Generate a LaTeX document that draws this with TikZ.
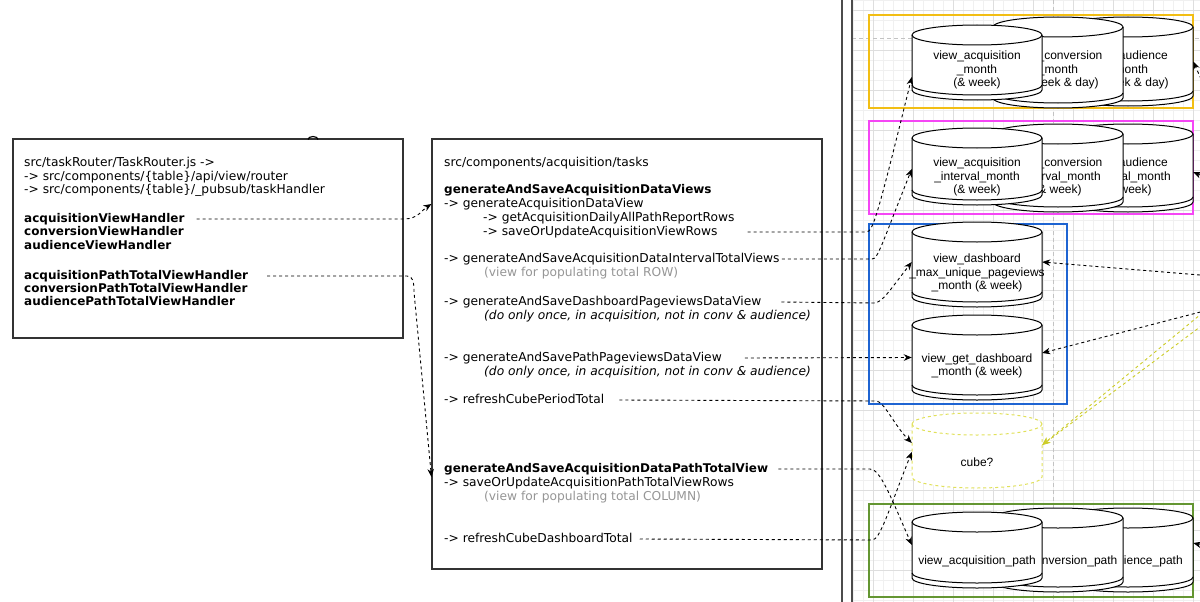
\documentclass[tikz,border=0pt]{standalone}
\usepackage{fontspec}
\usetikzlibrary{arrows.meta,calc}

\newfontfamily\dvsans{DejaVu Sans}
\newfontfamily\arsans{Liberation Sans}
\newcommand{\codefont}{\dvsans\fontsize{12.25}{14}\selectfont}
\newcommand{\boldfont}{\dvsans\bfseries\fontsize{12}{14}\selectfont}
\newcommand{\cylfont}{\arsans\fontsize{12}{13.7}\selectfont}

\definecolor{grpyellow}{RGB}{242,190,20}
\definecolor{grpmagenta}{RGB}{245,70,245}
\definecolor{grpblue}{RGB}{30,100,210}
\definecolor{grpgreen}{RGB}{100,150,50}
\definecolor{cubeyellow}{RGB}{225,225,90}
\definecolor{linkyellow}{RGB}{205,205,40}
\definecolor{notegray}{RGB}{150,150,150}
\definecolor{gridminor}{RGB}{240,240,240}
\definecolor{gridmajor}{RGB}{222,222,222}
\definecolor{pagebreak}{RGB}{195,195,195}

% datastore: name, centre x, top, bottom, label y, label
\newcommand{\dstore}[6]{%
  \pgfmathsetmacro{\cyL}{#2-65}%
  \pgfmathsetmacro{\cyR}{#2+65}%
  \pgfmathsetmacro{\cyT}{#3+10}%
  \pgfmathsetmacro{\cyB}{#4-10}%
  \pgfmathsetmacro{\cyG}{#4-15}%
  \pgfmathsetmacro{\cyM}{(#3+#4)/2}%
  \pgfmathsetmacro{\cyH}{#4-#3}%
  \filldraw[cyl] (\cyL,\cyT) arc[start angle=180,end angle=360,x radius=65,y radius=10]
    -- (\cyR,\cyB) arc[start angle=0,end angle=180,x radius=65,y radius=10] -- cycle;
  \draw[cyl] (\cyL,\cyT) arc[start angle=180,end angle=0,x radius=65,y radius=10];
  \draw[cyl] (\cyL,\cyG) arc[start angle=180,end angle=0,x radius=65,y radius=10];
  \node[cylbox, minimum height=\cyH pt] (#1) at (#2,\cyM) {};
  \node[cyltxt] at (#2,#5) {#6};
}

\begin{document}
\begin{tikzpicture}[x=1pt,y=-1pt,
    panel/.style={draw=black!80, line width=1.1pt, minimum width=390pt},
    group/.style={draw, line width=2pt, minimum width=324pt, minimum height=93pt},
    code/.style={anchor=west, text height=9pt, text depth=3pt, font=\codefont},
    codeb/.style={code, font=\boldfont},
    note/.style={code, text=notegray},
    hint/.style={code, font=\codefont\itshape},
    cyl/.style={draw=black, fill=white, line width=1pt},
    cylbox/.style={minimum width=130pt},
    cyltxt/.style={align=center, font=\cylfont},
    link/.style={draw=black, line width=0.9pt, dash pattern=on 3pt off 3pt,
      -{Stealth[length=8pt,width=6.5pt,inset=2.5pt]}},
    ylink/.style={link, draw=linkyellow, -{Stealth[length=8pt,width=6.5pt,inset=2.5pt,fill=linkyellow]}}]
  \tikzstyle{every node}+=[inner sep=0pt]
  \useasboundingbox (0,0) rectangle (1200,602);
  \clip (0,0) rectangle (1200,602);
  \fill[white] (0,0) rectangle (1200,602);

  % canvas grid
  \foreach \gx in {853,863,...,1193} \draw[gridminor, line width=0.6pt] (\gx,0) -- (\gx,602);
  \foreach \gy in {0,10,...,600} \draw[gridminor, line width=0.6pt] (852,\gy) -- (1200,\gy);
  \foreach \gx in {873,913,...,1193} \draw[gridmajor, line width=0.7pt] (\gx,0) -- (\gx,602);
  \foreach \gy in {10,50,...,570} \draw[gridmajor, line width=0.7pt] (852,\gy) -- (1200,\gy);
  \draw[pagebreak, line width=1pt, dash pattern=on 4pt off 3pt] (1053,0) -- (1053,602);
  \draw[pagebreak, line width=1pt, dash pattern=on 4pt off 3pt] (852,39) -- (1200,39);
  \draw[black!70, line width=1.4pt] (842,0) -- (842,602);
  \draw[black!70, line width=1.4pt] (852,0) -- (852,602);

  % router box
  \draw (208,238.5) node[panel, minimum height=199pt] (router) {};
  \draw[line width=1.2pt] (308,139.5) arc[start angle=180,end angle=360,x radius=5,y radius=3];
  \draw (24,163) node[code] (rtFile) {src/taskRouter/TaskRouter.js ->};
  \draw (24,177) node[code] (rtRouter) {-> src/components/\{table\}/api/view/router};
  \draw (24,190) node[code] (rtHandler) {-> src/components/\{table\}/\_pubsub/taskHandler};
  \draw (24,219) node[codeb] (hView) {acquisitionViewHandler};
  \draw (24,232) node[codeb] (hConvView) {conversionViewHandler};
  \draw (24,246) node[codeb] (hAudView) {audienceViewHandler};
  \draw (24,276) node[codeb] (hPath) {acquisitionPathTotalViewHandler};
  \draw (24,289) node[codeb] (hConvPath) {conversionPathTotalViewHandler};
  \draw (24,302) node[codeb] (hAudPath) {audiencePathTotalViewHandler};

  % tasks box
  \draw (627,354) node[panel, minimum height=430pt] (tasks) {};
  \draw (444,163) node[code] (tkDir) {src/components/acquisition/tasks};
  \draw (444,190) node[codeb] (gViews) {generateAndSaveAcquisitionDataViews};
  \draw (444,204) node[code] (gView) {-> generateAcquisitionDataView};
  \draw (483,218) node[code] (gRows) {-> getAcquisitionDailyAllPathReportRows};
  \draw (483,232) node[code] (sView) {-> saveOrUpdateAcquisitionViewRows};
  \draw (444,259) node[code] (gInt) {-> generateAndSaveAcquisitionDataIntervalTotalViews};
  \draw (484,273) node[note] (nRow) {(view for populating total ROW)};
  \draw (444,302) node[code] (gDash) {-> generateAndSaveDashboardPageviewsDataView};
  \draw (484,316) node[hint] (nOnceA) {(do only once, in acquisition, not in conv \& audience)};
  \draw (444,358) node[code] (gPathPv) {-> generateAndSavePathPageviewsDataView};
  \draw (484,372) node[hint] (nOnceB) {(do only once, in acquisition, not in conv \& audience)};
  \draw (444,400) node[code] (rPeriod) {-> refreshCubePeriodTotal};
  \draw (444,469) node[codeb] (gPathTot) {generateAndSaveAcquisitionDataPathTotalView};
  \draw (444,483) node[code] (sPath) {-> saveOrUpdateAcquisitionPathTotalViewRows};
  \draw (484,497) node[note] (nCol) {(view for populating total COLUMN)};
  \draw (444,539) node[code] (rDash) {-> refreshCubeDashboardTotal};

  % view groups
  \draw (1031,61.5) node[group, draw=grpyellow] (grpMonth) {};
  \draw (1031,167.5) node[group, draw=grpmagenta] (grpInterval) {};
  \draw (968,314) node[group, draw=grpblue, minimum width=198pt, minimum height=180pt] (grpDash) {};
  \draw (1031,550.5) node[group, draw=grpgreen] (grpPath) {};

  \dstore{mAud}{1128}{17}{106}{70}{view\_audience\\\_month\\(\& week \& day)}
  \dstore{mConv}{1058}{17}{108}{70}{view\_conversion\\\_month\\(\& week \& day)}
  \dstore{mAcq}{977}{25}{100}{70}{view\_acquisition\\\_month\\(\& week)}
  \dstore{iAud}{1128}{124}{212}{177}{view\_audience\\\_interval\_month\\(\& week)}
  \dstore{iConv}{1058}{124}{212}{177}{view\_conversion\\\_interval\_month\\(\& week)}
  \dstore{iAcq}{977}{128}{205}{177}{view\_acquisition\\\_interval\_month\\(\& week)}
  \dstore{dMax}{977}{222}{307}{273}{view\_dashboard\\\_max\_unique\_pageviews\\\_month (\& week)}
  \dstore{dGet}{977}{315}{400}{366}{view\_get\_dashboard\\\_month (\& week)}
  \dstore{pAud}{1128}{508}{592}{561}{view\_audience\_path}
  \dstore{pConv}{1058}{508}{592}{561}{view\_conversion\_path}
  \dstore{pAcq}{977}{512}{588}{561}{view\_acquisition\_path}

  % cube
  \filldraw[draw=cubeyellow, fill=white, line width=1pt, dash pattern=on 3pt off 3pt]
    (912,424) arc[start angle=180,end angle=360,x radius=65,y radius=11]
    -- (1042,477) arc[start angle=0,end angle=180,x radius=65,y radius=11] -- cycle;
  \draw[cubeyellow, line width=1pt, dash pattern=on 3pt off 3pt]
    (912,424) arc[start angle=180,end angle=0,x radius=65,y radius=11];
  \draw (977,450.5) node[cylbox, minimum height=75pt] (cube) {};
  \draw (977,462) node[cyltxt] (cubeTxt) {cube?};

  % off-canvas ends
  \coordinate (extA) at (1212,276);
  \coordinate (extB) at (1212,309);
  \coordinate (extC) at (1212,305);
  \coordinate (extD) at (1212,318);
  \coordinate (extE) at (1206,90);
  \coordinate (extF) at (1212,180);
  \coordinate (extG) at (1214,548);

  % links
  \draw[link] ([xshift=12pt]hView.east) -- (404,219) .. controls (418,219) and (422,210) .. (gView.west -| tasks.west);
  \draw[link] ([xshift=19pt]hPath.east) -- (407,276) .. controls (413,276) and (414,282) .. (414,292)
    -- ($(gPathTot.west -| tasks.west)+(0,8)$);
  \draw[link] ([xshift=30pt]sView.east) -- (866,232) .. controls (873,232) and (877,218) .. ([yshift=-14.5pt]mAcq.west);
  \draw[link] ([xshift=2pt]gInt.east) -- (872,259) .. controls (878,259) and (881,246) .. ([yshift=-2.5pt]iAcq.west);
  \draw[link] ([xshift=20pt]gDash.east) -- (874,303) .. controls (882,303) and (890,290) .. ([yshift=2.5pt]dMax.west);
  \draw[link] ([xshift=23pt]gPathPv.east) -- (dGet.west);
  \draw[link] ([xshift=15pt]rPeriod.east) -- (876,401) .. controls (884,401) and (894,425) .. ([yshift=7.5pt]cube.west);
  \draw[link] ([xshift=10pt]gPathTot.east) -- (870,469) .. controls (880,469) and (890,495) .. ([yshift=5pt]pAcq.west);
  \draw[link] ([xshift=7pt]rDash.east) -- (872,540) .. controls (880,540) and (888,512) .. ([yshift=-1.5pt]cube.west);

  \draw[link] (extA) -- ([yshift=2.5pt]dMax.east);
  \draw[link] (extB) -- ([yshift=4.5pt]dGet.east);
  \draw[ylink] (extC) -- ([yshift=5.5pt]cube.east);
  \draw[ylink] (extD) -- ([yshift=5.5pt]cube.east);
  \draw[link] (extE) -- (mAud.east);
  \draw[link] (extF) -- ([yshift=-4pt]iAud.east);
  \draw[link] (extG) -- ([yshift=7pt]pAud.east);
\end{tikzpicture}
\end{document}
